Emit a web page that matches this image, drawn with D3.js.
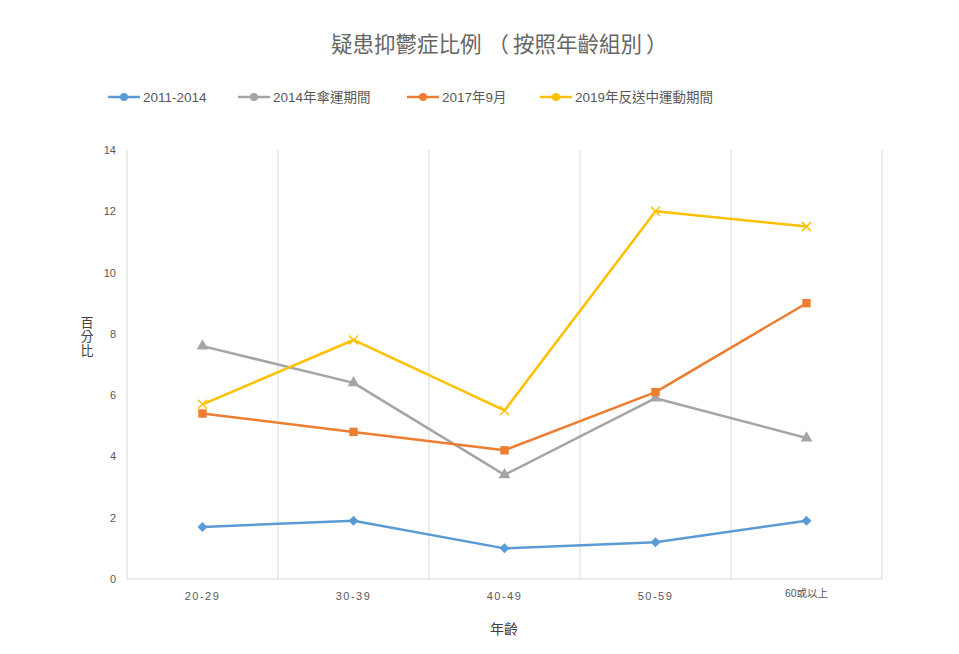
<!DOCTYPE html>
<html><head><meta charset="utf-8">
<script src="https://cdn.jsdelivr.net/npm/d3@7/dist/d3.min.js"></script>
<style>body{margin:0;background:#fff;} text{font-family:"Liberation Sans","Noto Sans CJK TC",sans-serif;}</style>
</head><body>
<svg id="c" width="959" height="654"></svg>
<script>
const categories = ["20-29","30-39","40-49","50-59","60或以上"];
const seriesNames = ["2011-2014","2014年傘運期間","2017年9月","2019年反送中運動期間"];
const s2011 = [1.7,1.9,1.0,1.2,1.9];
const s2014 = [7.6,6.4,3.4,5.9,4.6];
const s2017 = [5.4,4.8,4.2,6.1,9.0];
const s2019 = [5.7,7.8,5.5,12.0,11.5];
const yTicks = [0,2,4,6,8,10,12,14];
const colors = ["#5B9BD5","#A5A5A5","#ED7D31","#FFC000"];
const markers = ["diamond","triangle","square","cross"];

const svg = d3.select("#c");
const m = {l:127, r:882, t:150, b:579};
const x = d3.scaleBand().domain(categories).range([m.l, m.r]);
const y = d3.scaleLinear().domain([0,14]).range([m.b, m.t]);

const bounds = categories.map(c => x(c)).concat([m.r]);
svg.append("g").selectAll("line").data(bounds.slice(1)).join("line")
  .attr("x1", d=>d).attr("x2", d=>d).attr("y1", m.t).attr("y2", m.b)
  .attr("stroke","#d9d9d9").attr("stroke-width",1);
svg.append("line").attr("x1",m.l).attr("x2",m.l).attr("y1",m.t).attr("y2",m.b).attr("stroke","#d9d9d9");
svg.append("line").attr("x1",m.l).attr("x2",m.r).attr("y1",m.b).attr("y2",m.b).attr("stroke","#d9d9d9");

const yAxis = d3.axisLeft(y).tickValues(yTicks).tickSize(0).tickPadding(11);
const ya = svg.append("g").attr("transform",`translate(${m.l},0)`).call(yAxis);
ya.select(".domain").remove();
ya.selectAll("text").attr("fill","#595959").style("font-size","11px");

const xAxis = d3.axisBottom(x).tickSize(0).tickPadding(13);
const xa = svg.append("g").attr("transform",`translate(0,${m.b})`).call(xAxis);
xa.select(".domain").remove();
xa.selectAll("text").attr("fill","#595959").style("font-size","11px").style("letter-spacing","1.5px")
  .filter(d=>d==="60或以上").attr("dy","0.45em").style("letter-spacing","0px").style("font-size","10.5px");

const title = svg.append("text").attr("x",331).attr("y",52).attr("text-anchor","start")
  .attr("fill","#666666").style("font-size","21.5px").style("font-family","'Noto Sans CJK TC',sans-serif");
title.append("tspan").text("疑患抑鬱症比例");
title.append("tspan").attr("dx",6).text("（");
title.append("tspan").attr("dx",4).text("按照年齡組別");
title.append("tspan").attr("dx",4).text("）");

svg.append("text").attr("x",504).attr("y",634).attr("text-anchor","middle").attr("fill","#404040")
  .style("font-size","14px").text("年齡");
const yl = svg.append("text").attr("x",87).attr("fill","#404040").attr("text-anchor","middle").style("font-size","13px");
["百","分","比"].forEach((ch,i)=> yl.append("tspan").attr("x",87).attr("y",327+i*14).text(ch));

const data = [s2011,s2014,s2017,s2019];
const line = d3.line().x((d,i)=>x(categories[i])+x.bandwidth()/2).y(d=>y(d));
const symMap = {triangle:d3.symbolTriangle, square:d3.symbolSquare};
data.forEach((vals,si)=>{
  svg.append("path").datum(vals).attr("d",line).attr("fill","none")
    .attr("stroke",colors[si]).attr("stroke-width",2.5).attr("stroke-linejoin","round");
  const g = svg.append("g");
  vals.forEach((v,i)=>{
    const cx = x(categories[i])+x.bandwidth()/2, cy = y(v);
    if (markers[si]==="cross") {
      g.append("path").attr("d",`M${cx-4.5},${cy-4.5}L${cx+4.5},${cy+4.5}M${cx-4.5},${cy+4.5}L${cx+4.5},${cy-4.5}`)
        .attr("stroke",colors[si]).attr("stroke-width",1.5);
    } else if (markers[si]==="diamond") {
      g.append("path").attr("d",`M${cx},${cy-5}L${cx+5},${cy}L${cx},${cy+5}L${cx-5},${cy}Z`).attr("fill",colors[si]);
    } else {
      const sz = markers[si]==="triangle"?60:70;
      g.append("path").attr("d",d3.symbol().type(symMap[markers[si]]).size(sz)())
        .attr("transform",`translate(${cx},${cy})`).attr("fill",colors[si]);
    }
  });
});

const legX = [108,238,407,540];
seriesNames.forEach((n,i)=>{
  const lx = legX[i], ly = 97;
  svg.append("line").attr("x1",lx).attr("x2",lx+32).attr("y1",ly).attr("y2",ly)
    .attr("stroke",colors[i]).attr("stroke-width",2.5);
  svg.append("circle").attr("cx",lx+16).attr("cy",ly).attr("r",4).attr("fill",colors[i]);
  svg.append("text").attr("x",lx+35).attr("y",ly+5).attr("fill","#595959").style("font-size","13.5px").text(n);
});
</script>
</body></html>
